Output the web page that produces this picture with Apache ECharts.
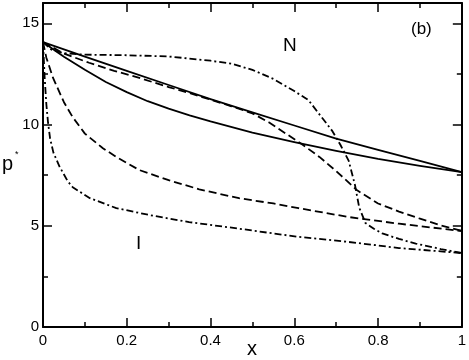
<!DOCTYPE html>
<html>
<head>
<meta charset="utf-8">
<script src="https://cdn.jsdelivr.net/npm/echarts@6/dist/echarts.min.js"></script>
<style>
  html, body { margin: 0; padding: 0; background: #fff; }
  #chart { width: 469px; height: 360px; }
</style>
</head>
<body>
<div id="chart"></div>
<script>
// curves, [x, p*]
var solidUpper = [[0, 14.07], [0.1, 13.35], [0.2, 12.65], [0.3, 11.95], [0.4, 11.25], [0.5, 10.6],
  [0.6, 9.95], [0.7, 9.3], [0.8, 8.75], [0.9, 8.2], [1, 7.65]];
var solidLower = [[0, 14.07], [0.025, 13.7], [0.05, 13.35], [0.075, 13.02], [0.1, 12.7], [0.15, 12.1],
  [0.2, 11.6], [0.25, 11.15], [0.3, 10.78], [0.35, 10.45], [0.4, 10.15], [0.5, 9.6], [0.6, 9.13],
  [0.7, 8.7], [0.8, 8.3], [0.9, 7.96], [1, 7.65]];
var dashUpper = [[0, 14.07], [0.05, 13.5], [0.11, 13.05], [0.17, 12.65], [0.23, 12.3], [0.3, 11.85],
  [0.35, 11.55], [0.45, 10.9], [0.5, 10.55], [0.54, 10.1], [0.58, 9.55], [0.62, 9.0], [0.66, 8.4],
  [0.7, 7.7], [0.75, 6.75], [0.8, 6.1], [0.85, 5.7], [0.9, 5.35], [0.95, 5.02], [1, 4.75]];
var dashLower = [[0, 14.07], [0.008, 13.3], [0.024, 12.3], [0.05, 11.1], [0.071, 10.36], [0.1, 9.55],
  [0.143, 8.83], [0.175, 8.4], [0.23, 7.75], [0.3, 7.25], [0.373, 6.8], [0.468, 6.36], [0.55, 6.1],
  [0.61, 5.87], [0.73, 5.43], [0.85, 5.1], [1, 4.74]];
var dotDashUpper = [[0, 14.07], [0.02, 13.7], [0.05, 13.52], [0.1, 13.45], [0.2, 13.42], [0.3, 13.36],
  [0.4, 13.15], [0.45, 13.0], [0.5, 12.7], [0.55, 12.25], [0.6, 11.65], [0.634, 11.2], [0.66, 10.5],
  [0.69, 9.7], [0.71, 9.0], [0.73, 8.2], [0.745, 7.0], [0.755, 5.9], [0.77, 5.13], [0.79, 4.85],
  [0.81, 4.62], [0.85, 4.35], [0.89, 4.12], [0.95, 3.85], [1, 3.65]];
var dotDashLower = [[0, 14.07], [0.004, 12.3], [0.008, 11.0], [0.012, 10.1], [0.017, 9.3], [0.025, 8.6],
  [0.04, 7.9], [0.059, 7.2], [0.071, 6.9], [0.112, 6.36], [0.175, 5.87], [0.254, 5.53], [0.349, 5.18],
  [0.47, 4.85], [0.55, 4.62], [0.61, 4.45], [0.73, 4.2], [0.85, 3.9], [1, 3.65]];

var xTicks = ['0', '0.2', '0.4', '0.6', '0.8', '1'];
var yTicks = ['0', '5', '10', '15'];

var font = 'Liberation Sans, Arial, sans-serif';
var black = '#000';

function axisBase(show) {
  return {
    axisLine: { show: true, onZero: false, lineStyle: { color: black, width: 2 } },
    axisTick: { show: true, inside: true, length: 9, lineStyle: { color: black, width: 1.5 } },
    minorTick: { show: true, splitNumber: 2, length: 5, lineStyle: { color: black, width: 1.5 } },
    splitLine: { show: false },
    minorSplitLine: { show: false },
    axisLabel: { show: show, color: black, fontFamily: font, fontSize: 15 }
  };
}

function pickLabel(list, step) {
  return function (v) {
    var i = Math.round(v / step);
    if (Math.abs(v - i * step) > 1e-6) return '';
    return list[i] !== undefined ? list[i] : '';
  };
}

var xBottom = Object.assign(axisBase(true), {
  type: 'value', min: 0, max: 1, interval: 0.2, position: 'bottom'
});
xBottom.axisLabel.margin = 6;
xBottom.axisLabel.formatter = pickLabel(xTicks, 0.2);
var xTop = Object.assign(axisBase(false), {
  type: 'value', min: 0, max: 1, interval: 0.2, position: 'top'
});
var yLeft = Object.assign(axisBase(true), {
  type: 'value', min: 0, max: 16, interval: 5, position: 'left'
});
yLeft.axisLabel.margin = 4;
yLeft.axisLabel.formatter = pickLabel(yTicks, 5);
var yRight = Object.assign(axisBase(false), {
  type: 'value', min: 0, max: 16, interval: 5, position: 'right'
});

function curve(data, dash) {
  return {
    type: 'line',
    data: data,
    showSymbol: false,
    smooth: false,
    silent: true,
    xAxisIndex: 0,
    yAxisIndex: 0,
    lineStyle: { color: black, width: 1.8, type: dash, join: 'round' }
  };
}

var chart = echarts.init(document.getElementById('chart'), null, { renderer: 'canvas' });
chart.setOption({
  animation: false,
  backgroundColor: '#fff',
  grid: { left: 43, right: 5, top: 3, bottom: 33, containLabel: false },
  xAxis: [xBottom, xTop],
  yAxis: [yLeft, yRight],
  series: [
    curve(solidUpper, 'solid'),
    curve(solidLower, 'solid'),
    curve(dashUpper, [8, 4]),
    curve(dashLower, [8, 4]),
    curve(dotDashUpper, [7, 3, 2, 3]),
    curve(dotDashLower, [7, 3, 2, 3])
  ],
  graphic: [
    { type: 'text', left: 283, top: 36, style: { text: 'N', font: '19px ' + font, fill: black } },
    { type: 'text', left: 136, top: 234, style: { text: 'I', font: '19px ' + font, fill: black } },
    { type: 'text', left: 411, top: 21, style: { text: '(b)', font: '17px ' + font, fill: black } },
    { type: 'text', left: 2, top: 154, style: { text: 'p', font: '20px ' + font, fill: black } },
    { type: 'text', left: 15, top: 150, style: { text: '*', font: '9px ' + font, fill: black } },
    { type: 'text', left: 247, top: 339, style: { text: 'x', font: '20px ' + font, fill: black } }
  ]
});
</script>
</body>
</html>
